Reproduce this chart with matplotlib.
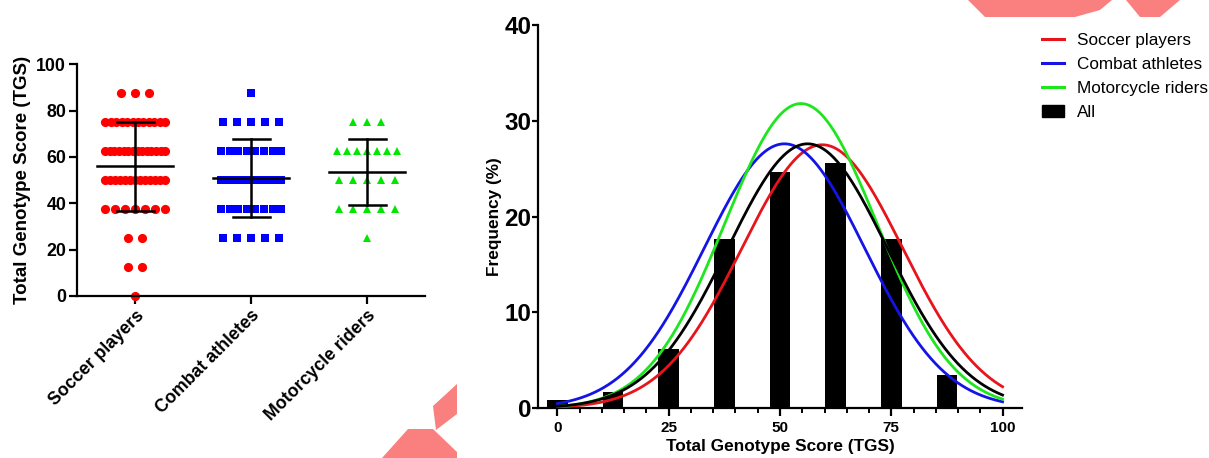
import numpy as np
import matplotlib
matplotlib.use("Agg")
import matplotlib.pyplot as plt
from matplotlib.lines import Line2D
from matplotlib.patches import Patch, Polygon
from matplotlib.ticker import MultipleLocator

plt.rcParams['font.family'] = ['Liberation Sans', 'DejaVu Sans']

# ---------------- data ----------------
groups = ["Soccer players", "Combat athletes", "Motorcycle riders"]
score_levels = [0, 12.5, 25, 37.5, 50, 62.5, 75, 87.5]
soccer_counts = [1, 2, 2, 7, 13, 14, 12, 3]
combat_counts = [0, 0, 5, 8, 10, 8, 5, 1]
moto_counts = [0, 0, 1, 5, 5, 7, 3, 0]

bin_centers = [0, 12.5, 25, 37.5, 50, 62.5, 75, 87.5]
all_freq = [0.9, 1.7, 6.2, 17.7, 24.7, 25.6, 17.7, 3.5]

curve_names = ["Soccer players", "Combat athletes", "Motorcycle riders", "All"]
curve_peak = [27.5, 27.6, 31.8, 27.6]
curve_center = [59.5, 51.0, 54.7, 56.2]
curve_sd = [18.1, 18.0, 17.1, 17.9]

xticks_right = [0, 25, 50, 75, 100]
yticks_right = [0, 10, 20, 30, 40]
yticks_left = [0, 20, 40, 60, 80, 100]

# ---------------- styles ----------------
group_colors = ["#ff0000", "#0000ff", "#00e600"]
group_markers = ["o", "s", "^"]
group_msize = [6.6, 6.3, 6.4]
curve_colors = ["#e8141c", "#1414e6", "#1ee61e", "#000000"]

W, H = 1209, 458
fig = plt.figure(figsize=(W / 100, H / 100), dpi=100)
fig.patch.set_facecolor("white")

# ---------------- left: scatter ----------------
ax1 = fig.add_axes([77.3 / W, 1 - 296 / H, (425 - 77.3) / W, (296 - 64.3) / H])
px_per_unit = (425 - 77.3) / 3.0
base_sp = 14.0 / px_per_unit
max_span = 60.0 / px_per_unit

all_counts = [soccer_counts, combat_counts, moto_counts]
for gi, counts in enumerate(all_counts):
    xs, ys = [], []
    for lvl, n in zip(score_levels, counts):
        if n == 0:
            continue
        sp = base_sp if n == 1 else min(base_sp, max_span / (n - 1))
        for k in range(n):
            xs.append(gi + (k - (n - 1) / 2) * sp)
            ys.append(lvl)
    ax1.plot(xs, ys, linestyle="none", marker=group_markers[gi],
             markersize=group_msize[gi], color=group_colors[gi],
             markeredgewidth=0, zorder=2, clip_on=False)
    vals = np.repeat(score_levels, counts)
    m = vals.mean()
    sd = vals.std(ddof=1)
    ax1.plot([gi - 0.33, gi + 0.33], [m, m], color="black", lw=1.8, zorder=3)
    ax1.plot([gi, gi], [m - sd, m + sd], color="black", lw=1.8, zorder=3)
    for yv in (m - sd, m + sd):
        ax1.plot([gi - 0.16, gi + 0.16], [yv, yv], color="black", lw=1.8, zorder=3)

ax1.set_xlim(-0.5, 2.5)
ax1.set_ylim(0, 100)
ax1.set_yticks(yticks_left)
ax1.set_xticks(range(len(groups)))
ax1.set_xticklabels(groups, rotation=45, ha="right", rotation_mode="anchor",
                    fontsize=12.8, fontweight="bold")
for lab in ax1.get_yticklabels():
    lab.set_fontsize(12.8)
    lab.set_fontweight("bold")
ax1.set_ylabel("Total Genotype Score (TGS)", fontsize=13.5, fontweight="bold", labelpad=4)
for s in ("top", "right"):
    ax1.spines[s].set_visible(False)
for s in ("left", "bottom"):
    ax1.spines[s].set_linewidth(1.6)
ax1.tick_params(axis="both", direction="out", width=1.6, length=6, pad=2)

# ---------------- right: histogram + fitted curves ----------------
ax2 = fig.add_axes([538.3 / W, 1 - 408.3 / H, (1021.7 - 538.3) / W, 383.3 / H])
ax2.bar(bin_centers, all_freq, width=4.6, color="black", zorder=2)
xx = np.linspace(0, 100, 400)
for name, a, mu, sdv, col in zip(curve_names, curve_peak, curve_center, curve_sd, curve_colors):
    ax2.plot(xx, a * np.exp(-0.5 * ((xx - mu) / sdv) ** 2), color=col, lw=2.0, zorder=3)

ax2.set_xlim(-4.3, 104.3)
ax2.set_ylim(0, 40)
ax2.set_xticks(xticks_right)
ax2.xaxis.set_minor_locator(MultipleLocator(5))
ax2.set_yticks(yticks_right)
for lab in ax2.get_xticklabels():
    lab.set_fontsize(11)
    lab.set_fontweight("bold")
for lab in ax2.get_yticklabels():
    lab.set_fontsize(17.5)
    lab.set_fontweight("bold")
ax2.set_xlabel("Total Genotype Score (TGS)", fontsize=12.4, fontweight="bold", labelpad=3)
ax2.set_ylabel("Frequency (%)", fontsize=12.4, fontweight="bold", labelpad=2)
for s in ("top", "right"):
    ax2.spines[s].set_visible(False)
for s in ("left", "bottom"):
    ax2.spines[s].set_linewidth(1.6)
ax2.tick_params(axis="x", which="major", direction="out", width=1.6, length=6, pad=3)
ax2.tick_params(axis="y", which="major", direction="out", width=1.6, length=4.5, pad=0.5)
ax2.tick_params(axis="x", which="minor", direction="out", width=1.4, length=3.5)

handles = [Line2D([0], [0], color=c, lw=2.2) for c in curve_colors[:3]]
handles.append(Patch(facecolor="black", edgecolor="black"))
fig.legend(handles, curve_names, loc="upper left", bbox_to_anchor=(1042 / W, 1 - 33 / H),
           frameon=False, fontsize=12.3, handlelength=1.3, handleheight=0.7,
           handletextpad=0.75, labelspacing=0.52, borderpad=0, borderaxespad=0)

# ---------------- decorative pink overlay shapes seen in the image ----------------
def figpoly(pts):
    return Polygon([(x / W, 1 - y / H) for x, y in pts], closed=True,
                   transform=fig.transFigure, facecolor="#fa8080", edgecolor="none", zorder=10)

fig.patches.append(figpoly([(382, 458), (408, 429), (433, 429), (457, 452), (457, 458)]))
fig.patches.append(figpoly([(433, 406), (457, 384), (457, 414), (436, 430)]))
fig.patches.append(figpoly([(968, 0), (1112, 0), (1100, 10), (1075, 17), (985, 17)]))
fig.patches.append(figpoly([(1126, 0), (1180, 0), (1160, 17), (1140, 17)]))

fig.savefig("out.png", dpi=100)
